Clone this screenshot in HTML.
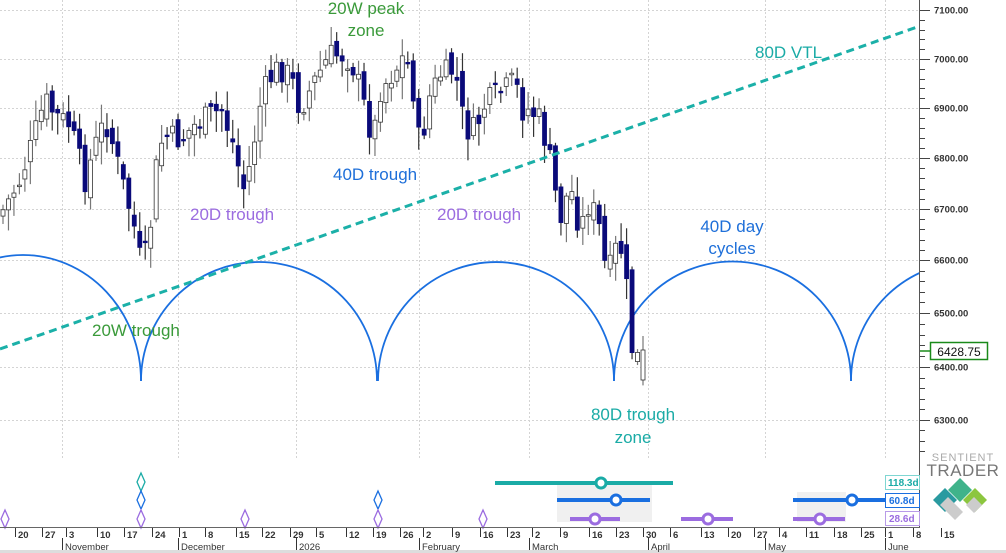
<!DOCTYPE html>
<html><head><meta charset="utf-8"><style>
html,body{margin:0;padding:0;background:#fff;}
svg{display:block;font-family:"Liberation Sans",sans-serif;}
</style></head><body>
<svg id="s" width="1006" height="553" viewBox="0 0 1006 553" xmlns="http://www.w3.org/2000/svg">
<rect width="1006" height="553" fill="#fff"/>
<g id="grid" stroke="#d4d4d4" stroke-dasharray="2,2" stroke-width="1"></g>
<g fill="none" stroke="#1a6fe0" stroke-width="1.8">
<path d="M-95,381 A118,126 0 0 1 141,381"/>
<path d="M141,381 A118,119 0 0 1 377,381"/>
<path d="M378,381 A118,119 0 0 1 614,381"/>
<path d="M614,381 A118,119 0 0 1 851,381"/>
<path d="M851,381 A118,119 0 0 1 1087,381"/>
</g>
<g id="candles"></g>
<line x1="0" y1="349" x2="920" y2="26" stroke="#1bb0a8" stroke-width="3" stroke-dasharray="8,5"/>
<rect x="920" y="0" width="86" height="553" fill="#fff"/>
<rect x="0" y="460" width="920" height="67" fill="#fff"/>
<g font-size="17">
<text x="366" y="14" fill="#3a9a3a" text-anchor="middle">20W peak</text>
<text x="366" y="36" fill="#3a9a3a" text-anchor="middle">zone</text>
<text x="755" y="58" fill="#1aaba6">80D VTL</text>
<text x="333" y="180" fill="#1e6fd9">40D trough</text>
<text x="190" y="220" fill="#9b6ce0">20D trough</text>
<text x="437" y="220" fill="#9b6ce0">20D trough</text>
<text x="732" y="232" fill="#1e6fd9" text-anchor="middle">40D day</text>
<text x="732" y="254" fill="#1e6fd9" text-anchor="middle">cycles</text>
<text x="92" y="336" fill="#3a9a3a">20W trough</text>
<text x="633" y="420" fill="#1aaba6" text-anchor="middle">80D trough</text>
<text x="633" y="443" fill="#1aaba6" text-anchor="middle">zone</text>
</g>
<line x1="919.5" y1="0" x2="919.5" y2="527" stroke="#555" stroke-width="1"/>
<g id="yaxis" font-size="9.5" font-weight="bold" fill="#333"></g>
<rect x="930.5" y="342.5" width="57" height="17" fill="#fff" stroke="#1a8a1a" stroke-width="1.5"/>
<line x1="920" y1="351" x2="930" y2="351" stroke="#1a8a1a" stroke-width="1.5"/>
<text x="959" y="356" font-size="12" text-anchor="middle" fill="#111">6428.75</text>
<rect x="557" y="485" width="95" height="37" fill="#f0f0f0"/>
<rect x="797" y="492" width="49" height="30" fill="#f0f0f0"/>
<g stroke-width="4" fill="#fff">
<line x1="495" y1="483" x2="673" y2="483" stroke="#1aaba6"/><circle cx="601" cy="483" r="5" stroke="#1aaba6" stroke-width="3"/>
<line x1="557" y1="500" x2="650" y2="500" stroke="#1a6fe0"/><circle cx="616" cy="500" r="5" stroke="#1a6fe0" stroke-width="3"/>
<line x1="793" y1="500" x2="920" y2="500" stroke="#1a6fe0"/><circle cx="852" cy="500" r="5" stroke="#1a6fe0" stroke-width="3"/>
<line x1="570" y1="519" x2="620" y2="519" stroke="#9b6ce0"/><circle cx="595" cy="519" r="5" stroke="#9b6ce0" stroke-width="3"/>
<line x1="681" y1="519" x2="733" y2="519" stroke="#9b6ce0"/><circle cx="708" cy="519" r="5" stroke="#9b6ce0" stroke-width="3"/>
<line x1="793" y1="519" x2="845" y2="519" stroke="#9b6ce0"/><circle cx="820" cy="519" r="5" stroke="#9b6ce0" stroke-width="3"/>
</g>
<g fill="none" stroke-width="1.3">
<path d="M141,473 l4,9 l-4,9 l-4,-9z" stroke="#1aaba6"/>
<path d="M141,491 l4,9 l-4,9 l-4,-9z M378,491 l4,9 l-4,9 l-4,-9z" stroke="#1a6fe0"/>
<path d="M5,510 l4,9 l-4,9 l-4,-9z M141,510 l4,9 l-4,9 l-4,-9z M245,510 l4,9 l-4,9 l-4,-9z M378,510 l4,9 l-4,9 l-4,-9z M483,510 l4,9 l-4,9 l-4,-9z" stroke="#9b6ce0"/>
</g>
<g font-size="10" font-weight="bold">
<rect x="885.5" y="475.5" width="34" height="14" fill="#fff" stroke="#7fd6d2"/><text x="888" y="486" fill="#1aaba6">118.3d</text>
<rect x="885.5" y="493.5" width="34" height="14" fill="#fff" stroke="#1a6fe0"/><text x="889" y="504" fill="#1a6fe0">60.8d</text>
<rect x="885.5" y="511.5" width="34" height="14" fill="#fff" stroke="#b89be8"/><text x="889" y="522" fill="#9b6ce0">28.6d</text>
</g>
<text x="963" y="461" font-size="11" fill="#aaa" text-anchor="middle" letter-spacing="1">SENTIENT</text>
<text x="963" y="476" font-size="17" fill="#777" text-anchor="middle" letter-spacing="0.5">TRADER</text>
<path d="M933,500 l12,-12 l12,12 l-12,12z" fill="#2a9aa0"/>
<path d="M948,490 l12,-12 l12,12 l-12,12z" fill="#3fb38a"/>
<path d="M963,500 l12,-12 l12,12 l-12,12z" fill="#8cc63f"/>
<path d="M940,505 l8,-8 l15,15 l-8,8z M966,505 l8,-8 l8,8 l-8,8z" fill="#ccc"/>
<line x1="0" y1="527.5" x2="920" y2="527.5" stroke="#666"/>
<rect x="0" y="550" width="1006" height="3" fill="#ddd"/>
<g id="xaxis" font-size="9.5" font-weight="bold" fill="#333"></g>
</svg>
<script>
(function(){
var NS="http://www.w3.org/2000/svg";
function el(t,a,p,txt){var e=document.createElementNS(NS,t);for(var k in a)e.setAttribute(k,a[k]);if(txt!==undefined)e.textContent=txt;document.getElementById(p).appendChild(e);return e;}
var lv=[[7100,10],[7000,59],[6900,108],[6800,158],[6700,209],[6600,260],[6500,313],[6400,367],[6300,420]];
lv.forEach(function(l){
 el("line",{x1:0,y1:l[1]+.5,x2:919,y2:l[1]+.5},"grid");
 el("line",{x1:920,y1:l[1]+.5,x2:930,y2:l[1]+.5,stroke:"#444"},"yaxis");
 el("text",{x:934,y:l[1]+3.5},"yaxis",l[0]+".00");
});
for(var i=0;i<lv.length-1;i++){for(var j=1;j<5;j++){var yy=Math.round(lv[i][1]+(lv[i+1][1]-lv[i][1])*j/5)+.5;el("line",{x1:920,y1:yy,x2:925,y2:yy,stroke:"#444"},"yaxis");}}
for(var yy=430;yy<460;yy+=10.6){el("line",{x1:920,y1:Math.round(yy)+.5,x2:925,y2:Math.round(yy)+.5,stroke:"#444"},"yaxis");}
[62,178,296,419,529,648,765,885].forEach(function(x){el("line",{x1:x+.5,y1:0,x2:x+.5,y2:527},"grid");});
var days=[["20",15],["27",42],["3",66],["10",97],["17",124],["24",152],["1",179],["8",205],["15",236],["22",262],["29",290],["5",316],["12",346],["19",373],["26",400],["2",423],["9",452],["16",480],["23",507],["2",532],["9",560],["16",589],["23",616],["30",643],["6",670],["13",701],["20",728],["27",754],["4",779],["11",806],["18",834],["25",861],["1",885],["8",913],["15",941]];
days.forEach(function(d){el("line",{x1:d[1]+.5,y1:528,x2:d[1]+.5,y2:537,stroke:"#333"},"xaxis");el("text",{x:d[1]+3,y:538},"xaxis",d[0]);});
[["November",62],["December",178],["2026",296],["February",419],["March",529],["April",648],["May",765],["June",885]].forEach(function(m){el("line",{x1:m[1]+.5,y1:538,x2:m[1]+.5,y2:550,stroke:"#333"},"xaxis");el("text",{x:m[1]+3,y:550,"font-weight":"normal"},"xaxis",m[0]);});
var kp=[[3,210],[20,180],[30,150],[45,100],[55,115],[70,125],[85,180],[100,130],[108,125],[122,180],[135,230],[142,270],[150,230],[158,150],[165,135],[180,140],[195,125],[210,115],[222,110],[235,150],[243,190],[250,165],[262,95],[275,70],[285,70],[292,80],[300,110],[315,80],[330,55],[345,55],[355,70],[373,140],[380,90],[395,70],[405,55],[412,80],[420,150],[430,95],[440,75],[455,70],[465,130],[475,130],[485,105],[495,95],[505,90],[515,80],[522,110],[530,110],[540,120],[550,160],[560,220],[570,185],[580,230],[590,200],[600,230],[607,280],[615,250],[622,250],[628,300],[633,360],[643,355]];
function interp(x){for(var i=0;i<kp.length-1;i++){if(x<=kp[i+1][0]){var a=kp[i],b=kp[i+1];return a[1]+(b[1]-a[1])*(x-a[0])/(b[0]-a[0]);}}return kp[kp.length-1][1];}
var seed=7;function rnd(){seed=(seed*9301+49297)%233280;return seed/233280;}
var prev=215;
for(var i=0;i<118;i++){
 var x=3+i*5.47; if(i==117)x=643;
 var c=interp(x)+(rnd()-.5)*26; var o=prev+(rnd()-.5)*18;
 if(i==117){o=380;c=350;}
 var t=Math.min(o,c),b=Math.max(o,c); if(b-t<1.5)b=t+1.5;
 var hi=t-3-rnd()*18, lo=b+3+rnd()*20;
 var bear=c>o;
 el("line",{x1:x,y1:hi,x2:x,y2:lo,stroke:bear?"#333":"#777","stroke-width":1.2},"candles");
 el("rect",{x:x-2,y:t,width:4,height:b-t,fill:bear?"#0a0a7a":"#fff",stroke:bear?"#0a0a7a":"#333","stroke-width":0.8},"candles");
 prev=c;
}
})();
</script>
</body></html>
